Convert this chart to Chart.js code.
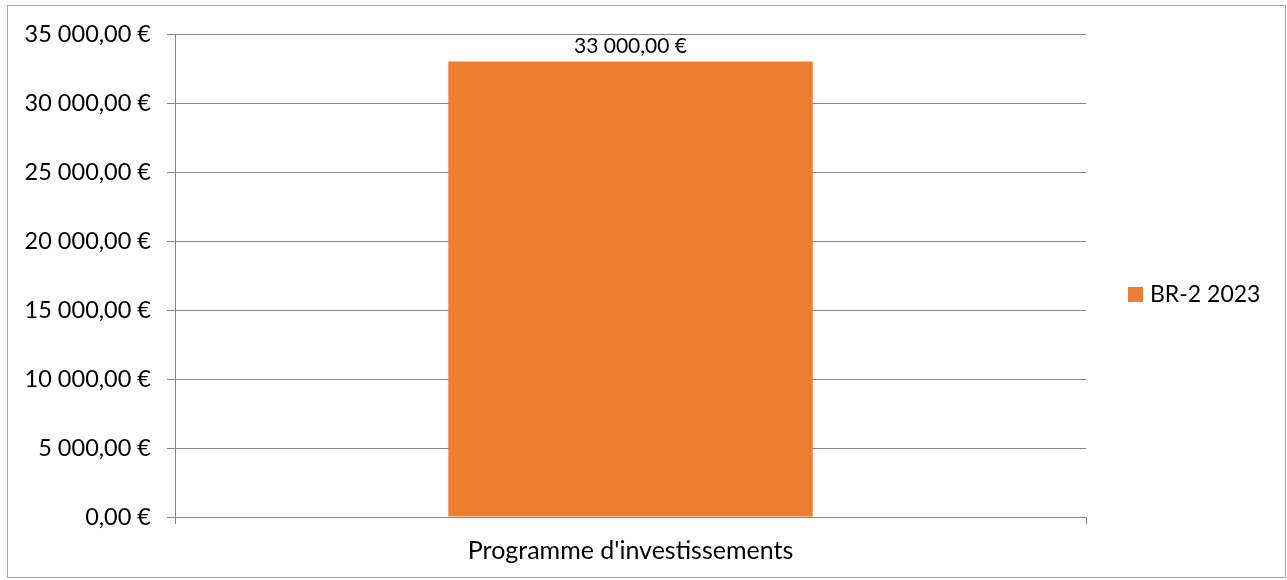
<!DOCTYPE html>
<html>
<head>
<meta charset="utf-8">
<script src="https://cdn.jsdelivr.net/npm/chart.js@4/dist/chart.umd.min.js"></script>
<style>
    body { margin: 0; background: #fff; }
    #wrap { position: relative; width: 1287px; height: 580px; }
</style>
</head>
<body>
<div id="wrap"><canvas id="chart"></canvas></div>
<script>
const categories = ["Programme d'investissements"];
const seriesName = 'BR-2 2023';
const seriesValues = [33000];
const yTicks = [0, 5000, 10000, 15000, 20000, 25000, 30000, 35000];

const FONT = "Lato, 'Open Sans', sans-serif";
const GRID = '#868686';
const BAR = '#ED7D31';

// "33000" -> "33 000,00 €"
function euro(v) {
    const parts = v.toFixed(2).split('.');
    const int = parts[0].replace(/\B(?=(\d{3})+(?!\d))/g, ' ');
    return int + ',' + parts[1] + ' €';
}

const framePlugin = {
    id: 'frame',
    beforeDraw(chart) {
        const ctx = chart.ctx;
        ctx.save();
        ctx.strokeStyle = '#a6a6a6';
        ctx.lineWidth = 1;
        ctx.strokeRect(7.5, 5.5, 1278, 572);
        ctx.restore();
    }
};

// value labels above bars + legend on the right
const labelsPlugin = {
    id: 'valueLabels',
    afterDatasetsDraw(chart) {
        const ctx = chart.ctx;
        ctx.save();
        chart.data.datasets.forEach((ds, i) => {
            const meta = chart.getDatasetMeta(i);
            meta.data.forEach((bar, j) => {
                ctx.font = Chart.helpers.fontString(21, 'normal', FONT);
                ctx.fillStyle = '#000';
                ctx.textAlign = 'center';
                ctx.textBaseline = 'middle';
                ctx.fillText(euro(ds.data[j]), bar.x, bar.y - 15);
            });
            // legend entry
            const y = 294 + i * 30;
            ctx.fillStyle = ds.backgroundColor;
            ctx.fillRect(1128, y - 7, 15, 15);
            ctx.fillStyle = '#000';
            ctx.font = Chart.helpers.fontString(23, 'normal', FONT);
            ctx.textAlign = 'left';
            ctx.textBaseline = 'middle';
            ctx.fillText(ds.label, 1150, y + 1);
        });
        ctx.restore();
    }
};

new Chart(document.getElementById('chart'), {
    type: 'bar',
    data: {
        labels: categories,
        datasets: [{
            label: seriesName,
            data: seriesValues,
            backgroundColor: BAR,
            borderWidth: 0,
            barPercentage: 1,
            categoryPercentage: 0.4
        }]
    },
    options: {
        responsive: true,
        maintainAspectRatio: false,
        animation: false,
        layout: {
            padding: { left: 0, top: 34, right: 201, bottom: 0 }
        },
        plugins: {
            legend: { display: false },
            tooltip: { enabled: false }
        },
        scales: {
            x: {
                grid: {
                    offset: true,
                    drawOnChartArea: false,
                    drawTicks: true,
                    tickLength: 7,
                    color: GRID
                },
                border: { display: true, color: GRID },
                ticks: {
                    color: '#000',
                    padding: 12,
                    font: { family: FONT, size: 25 }
                },
                afterFit: scale => { scale.height = 63; }
            },
            y: {
                min: 0,
                max: 35000,
                afterBuildTicks: scale => {
                    scale.ticks = yTicks.map(v => ({ value: v }));
                },
                grid: {
                    color: GRID,
                    tickLength: 8
                },
                border: { display: true, color: GRID },
                ticks: {
                    color: '#000',
                    padding: 16,
                    font: { family: FONT, size: 23.5 },
                    callback: v => euro(v)
                },
                afterFit: scale => { scale.width = 175; }
            }
        }
    },
    plugins: [framePlugin, labelsPlugin]
});
</script>
</body>
</html>
